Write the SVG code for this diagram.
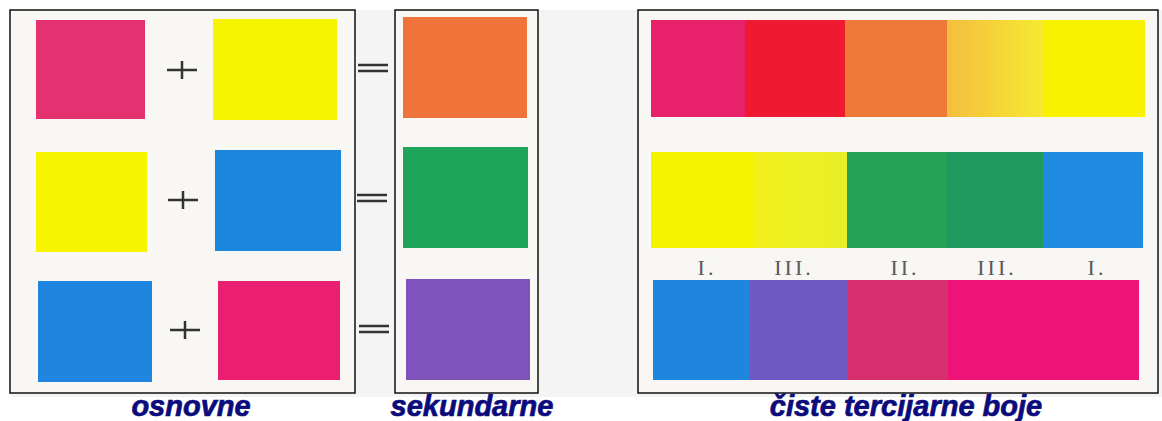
<svg xmlns="http://www.w3.org/2000/svg" width="1162" height="421" viewBox="0 0 1162 421">
<style>
.panel{fill:#f8f7f4;stroke:#111;stroke-width:1.5}
.op{stroke:#333;stroke-width:2.5;fill:none}
.num{font-family:"Liberation Serif",serif;font-size:22px;fill:#5a5a5a;letter-spacing:3px;text-anchor:middle}
.cap{font-family:"Liberation Sans",Arial,sans-serif;font-size:29px;font-weight:bold;font-style:italic;fill:#0b0b7c;stroke:#0b0b7c;stroke-width:0.7;text-anchor:middle}
</style>
<defs>
<linearGradient id="g14" x1="0" x2="1"><stop offset="0" stop-color="#f4be3e"/><stop offset="1" stop-color="#f6ea30"/></linearGradient>
<linearGradient id="g23" x1="0" x2="1"><stop offset="0" stop-color="#f1ef1a"/><stop offset="1" stop-color="#e8ef28"/></linearGradient>
</defs>
<rect x="0" y="0" width="1162" height="421" fill="#ffffff"/>
<rect x="10" y="10" width="1152" height="387" fill="#f4f4f4"/>

<g id="primary">
<rect class="panel" x="10" y="10" width="345" height="383"/>
<rect x="36" y="20" width="109" height="99" fill="#e3326f"/>
<rect x="213" y="19" width="124" height="101" fill="#f6f400"/>
<rect x="36" y="152" width="111" height="100" fill="#f6f400"/>
<rect x="215" y="150" width="126" height="101" fill="#1c86dc"/>
<rect x="38" y="281" width="114" height="101" fill="#1e86de"/>
<rect x="218" y="281" width="122" height="99" fill="#ea1f6f"/>
</g>

<g id="operators">
<path class="op" d="M167 70h30M182 61v18"/>
<path class="op" d="M168 200h30M183 191v18"/>
<path class="op" d="M170 330h30M185 321v18"/>
<path class="op" d="M358 65h30M358 71h30"/>
<path class="op" d="M357 195h30M357 201h30"/>
<path class="op" d="M359 326h30M359 332h30"/>
</g>

<g id="secondary">
<rect class="panel" x="395" y="10" width="143" height="383"/>
<rect x="403" y="17" width="124" height="101" fill="#f0733a"/>
<rect x="403" y="147" width="125" height="101" fill="#1ea55a"/>
<rect x="406" y="279" width="124" height="101" fill="#8052bc"/>
</g>

<g id="tertiary">
<rect class="panel" x="638" y="10" width="520" height="383"/>
<rect x="651" y="20" width="95" height="97" fill="#e8226a"/>
<rect x="745" y="20" width="101" height="97" fill="#f01932"/>
<rect x="845" y="20" width="103" height="97" fill="#ee7a3a"/>
<rect x="947" y="20" width="97" height="97" fill="url(#g14)"/>
<rect x="1043" y="20" width="102" height="97" fill="#f6f200"/>

<rect x="651" y="152" width="103" height="96" fill="#f5f200"/>
<rect x="753" y="152" width="95" height="96" fill="url(#g23)"/>
<rect x="847" y="152" width="101" height="96" fill="#23a256"/>
<rect x="947" y="152" width="97" height="96" fill="#1d9a5c"/>
<rect x="1043" y="152" width="100" height="96" fill="#1f8ae0"/>

<text class="num" x="707" y="275">I.</text>
<text class="num" x="794" y="275">III.</text>
<text class="num" x="905" y="275">II.</text>
<text class="num" x="997" y="275">III.</text>
<text class="num" x="1097" y="275">I.</text>

<rect x="653" y="280" width="98" height="100" fill="#1f86de"/>
<rect x="750" y="280" width="98" height="100" fill="#6e58c2"/>
<rect x="847" y="280" width="102" height="100" fill="#d7306e"/>
<rect x="948" y="280" width="191" height="100" fill="#ee1477"/>
</g>

<g id="captions">
<text class="cap" x="191" y="416">osnovne</text>
<text class="cap" x="472" y="416">sekundarne</text>
<text class="cap" x="906" y="416">čiste tercijarne boje</text>
</g>
</svg>
